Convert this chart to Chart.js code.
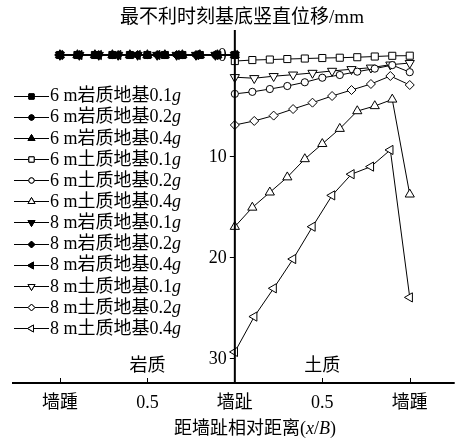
<!DOCTYPE html>
<html>
<head>
<meta charset="utf-8">
<script src="https://cdn.jsdelivr.net/npm/chart.js@4/dist/chart.umd.min.js"></script>
<style>
  html, body { margin: 0; padding: 0; background: #fff; }
  #wrap { width: 461px; height: 443px; }
</style>
</head>
<body>
<div id="wrap"><canvas id="chart" width="461" height="443"></canvas></div>
<script>
// Horizontal axis: relative distance from the wall toe (x/B); rock side drawn to the left
const xTickValues = [-1, -0.5, 0, 0.5, 1];
const xTickLabels = ['墙踵', '0.5', '墙趾', '0.5', '墙踵'];
const yTickValues = [0, 10, 20, 30];

// Sampling positions along the base (6 m wall: 11 points, 8 m wall: 10 points)
const rockPos6 = [-1, -0.9, -0.8, -0.7, -0.6, -0.5, -0.4, -0.3, -0.2, -0.1, 0];
const soilPos6 = [0, 0.1, 0.2, 0.3, 0.4, 0.5, 0.6, 0.7, 0.8, 0.9, 1];
const rockPos8 = [-1, -0.889, -0.778, -0.667, -0.556, -0.444, -0.333, -0.222, -0.111, 0];
const soilPos8 = [0, 0.111, 0.222, 0.333, 0.444, 0.556, 0.667, 0.778, 0.889, 1];

// Vertical base displacement at the most unfavourable moment (mm)
const rock6_01 = [0, 0, 0, 0, 0, 0, 0, 0, 0, 0, 0];
const rock6_02 = [0, 0, 0, 0, 0, 0, 0, 0, 0, 0, 0];
const rock6_04 = [0, 0, 0, 0, 0, 0, 0, 0, 0, 0, 0];
const soil6_01 = [0.6, 0.5, 0.45, 0.4, 0.35, 0.3, 0.27, 0.22, 0.15, 0.08, 0.07];
const soil6_02 = [3.85, 3.65, 3.37, 3.07, 2.7, 2.25, 1.98, 1.65, 1.35, 1.0, 1.7];
const soil6_04 = [17.0, 15.1, 13.6, 12.1, 10.3, 8.8, 7.3, 5.55, 5.05, 4.4, 13.8];
const rock8_01 = [0, 0, 0, 0, 0, 0, 0, 0, 0, 0];
const rock8_02 = [0, 0, 0, 0, 0, 0, 0, 0, 0, 0];
const rock8_04 = [0, 0, 0, 0, 0, 0, 0, 0, 0, 0];
const soil8_01 = [2.2, 2.3, 2.1, 1.95, 1.78, 1.58, 1.41, 1.26, 0.96, 0.8];
const soil8_02 = [6.93, 6.53, 6.0, 5.35, 4.72, 4.06, 3.47, 2.87, 2.08, 2.97];
const soil8_04 = [29.4, 25.9, 23.1, 20.2, 17.0, 13.9, 11.8, 11.05, 9.4, 24.0];

const seriesLabels = [
  '6 m岩质地基0.1g', '6 m岩质地基0.2g', '6 m岩质地基0.4g',
  '6 m土质地基0.1g', '6 m土质地基0.2g', '6 m土质地基0.4g',
  '8 m岩质地基0.1g', '8 m岩质地基0.2g', '8 m岩质地基0.4g',
  '8 m土质地基0.1g', '8 m土质地基0.2g', '8 m土质地基0.4g'
];

const FONT_FAMILY = '"Liberation Serif", "Times New Roman", "Noto Sans CJK SC", serif';

function pts(xs, ys) { return xs.map((x, i) => ({ x: x, y: ys[i] })); }

// marker styles: shape, rotation, radius, filled
const markers = [
  ['rect', 0, 5, true], ['circle', 0, 3.6, true], ['triangle', 0, 5.3, true],
  ['rect', 0, 5, false], ['circle', 0, 3.6, false], ['triangle', 0, 5.3, false],
  ['triangle', 180, 5.3, true], ['rectRot', 0, 4.5, true], ['triangle', -90, 5.3, true],
  ['triangle', 180, 5.3, false], ['rectRot', 0, 4.5, false], ['triangle', -90, 5.3, false]
];

const seriesData = [
  pts(rockPos6, rock6_01), pts(rockPos6, rock6_02), pts(rockPos6, rock6_04),
  pts(soilPos6, soil6_01), pts(soilPos6, soil6_02), pts(soilPos6, soil6_04),
  pts(rockPos8, rock8_01), pts(rockPos8, rock8_02), pts(rockPos8, rock8_04),
  pts(soilPos8, soil8_01), pts(soilPos8, soil8_02), pts(soilPos8, soil8_04)
];

const datasets = seriesLabels.map((label, i) => {
  const m = markers[i];
  return {
    label: label,
    data: seriesData[i],
    showLine: true,
    borderColor: '#000',
    borderWidth: 1,
    pointStyle: m[0],
    rotation: m[1],
    pointRadius: m[2],
    pointHoverRadius: m[2],
    pointBackgroundColor: m[3] ? '#000' : '#fff',
    pointBorderColor: '#000',
    pointBorderWidth: 1
  };
});

// Axis lines, tick marks, tick values, titles and the legend
const decorations = {
  id: 'decorations',
  afterDraw(chart) {
    const ctx = chart.ctx;
    const xs = chart.scales.x, ys = chart.scales.y;
    const area = chart.chartArea;
    const x0 = xs.getPixelForValue(0);
    ctx.save();
    ctx.strokeStyle = '#000';
    ctx.fillStyle = '#000';

    // horizontal axis with upward ticks
    ctx.lineWidth = 2;
    ctx.beginPath();
    ctx.moveTo(area.left, area.bottom);
    ctx.lineTo(area.right, area.bottom);
    ctx.stroke();
    ctx.lineWidth = 1;
    xTickValues.forEach(v => {
      if (v === 0) return;
      const px = Math.round(xs.getPixelForValue(v)) + 0.5;
      ctx.beginPath();
      ctx.moveTo(px, area.bottom);
      ctx.lineTo(px, area.bottom - 5);
      ctx.stroke();
    });

    // vertical axis through the wall toe
    ctx.lineWidth = 2;
    ctx.beginPath();
    ctx.moveTo(x0, area.top);
    ctx.lineTo(x0, area.bottom);
    ctx.stroke();
    ctx.lineWidth = 1;
    ctx.font = '18px ' + FONT_FAMILY;
    ctx.textAlign = 'right';
    ctx.textBaseline = 'middle';
    yTickValues.forEach(v => {
      const py = Math.round(ys.getPixelForValue(v)) + 0.5;
      ctx.beginPath();
      ctx.moveTo(x0 - 5, py);
      ctx.lineTo(x0, py);
      ctx.stroke();
      ctx.fillText(String(v), x0 - 8, py + 1);
    });

    // chart title
    ctx.textAlign = 'center';
    ctx.font = '19px ' + FONT_FAMILY;
    ctx.fillText('最不利时刻基底竖直位移/mm', 242, 18);

    // foundation type labels
    ctx.font = '18px ' + FONT_FAMILY;
    ctx.fillText('岩质', xs.getPixelForValue(-0.5), 366);
    ctx.fillText('土质', xs.getPixelForValue(0.5), 366);

    // horizontal axis title with italic symbols
    const parts = [['距墙趾相对距离(', false], ['x', true], ['/', false], ['B', true], [')', false]];
    const fontOf = it => (it ? 'italic ' : '') + '18px ' + FONT_FAMILY;
    let total = 0;
    parts.forEach(p => { ctx.font = fontOf(p[1]); total += ctx.measureText(p[0]).width; });
    let cx = 255 - total / 2;
    ctx.textAlign = 'left';
    parts.forEach(p => {
      ctx.font = fontOf(p[1]);
      ctx.fillText(p[0], cx, 429);
      cx += ctx.measureText(p[0]).width;
    });

    // legend
    chart.data.datasets.forEach((ds, i) => {
      const y = 95.5 + i * 21.15;
      ctx.lineWidth = 1;
      ctx.beginPath();
      ctx.moveTo(14, Math.round(y) + 0.5);
      ctx.lineTo(49, Math.round(y) + 0.5);
      ctx.stroke();
      ctx.fillStyle = ds.pointBackgroundColor;
      Chart.helpers.drawPoint(ctx, {
        pointStyle: ds.pointStyle,
        rotation: ds.rotation,
        radius: ds.pointRadius * 0.75,
        borderWidth: 1
      }, 31.5, Math.round(y) + 0.5);
      ctx.fill();
      ctx.stroke();
      ctx.fillStyle = '#000';
      const base = ds.label.slice(0, -1);
      const unit = ds.label.slice(-1);
      ctx.font = '18px ' + FONT_FAMILY;
      ctx.fillText(base, 50, y + 1);
      const w = ctx.measureText(base).width;
      ctx.font = 'italic 18px ' + FONT_FAMILY;
      ctx.fillText(unit, 50 + w, y + 1);
    });
    ctx.restore();
  }
};

new Chart(document.getElementById('chart'), {
  type: 'scatter',
  data: { datasets: datasets },
  options: {
    responsive: false,
    animation: false,
    devicePixelRatio: 1,
    layout: { padding: { left: 12, right: 6, top: 30, bottom: 0 } },
    plugins: {
      legend: { display: false },
      title: { display: false },
      tooltip: { enabled: false }
    },
    scales: {
      x: {
        type: 'linear',
        min: -1.274,
        max: 1.257,
        grid: { display: false, drawTicks: false },
        border: { display: false },
        afterBuildTicks: s => { s.ticks = xTickValues.map(v => ({ value: v })); },
        afterFit: s => { s.height = 60; },
        ticks: {
          padding: 9,
          color: '#000',
          font: { family: FONT_FAMILY, size: 18 },
          maxRotation: 0,
          autoSkip: false,
          callback: v => xTickLabels[xTickValues.indexOf(v)]
        }
      },
      y: {
        type: 'linear',
        reverse: true,
        min: -2.475,
        max: 32.475,
        display: false
      }
    }
  },
  plugins: [decorations]
});
</script>
</body>
</html>
